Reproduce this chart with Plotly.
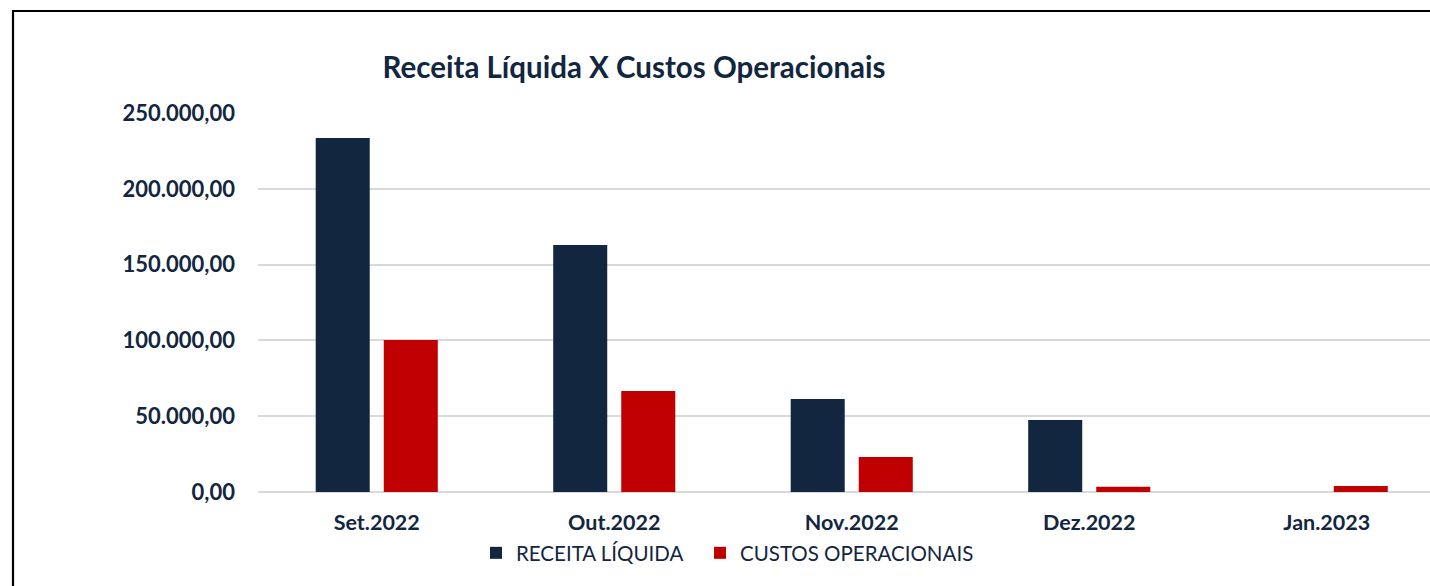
import plotly.graph_objects as go

categories = ["Set.2022", "Out.2022", "Nov.2022", "Dez.2022", "Jan.2023"]
receita_liquida = [233500, 162900, 61300, 47500, 0]
custos_operacionais = [100300, 66600, 23100, 3500, 3950]
y_ticks = [0, 50000, 100000, 150000, 200000, 250000]
y_tick_labels = ["0,00", "50.000,00", "100.000,00", "150.000,00", "200.000,00", "250.000,00"]

NAVY = "#12263F"
RED = "#C00000"
FONT = "Lato"

fig = go.Figure()
fig.add_trace(go.Bar(name="RECEITA LÍQUIDA", x=categories, y=receita_liquida,
                     marker=dict(color=NAVY, line=dict(width=0)), legend="legend"))
fig.add_trace(go.Bar(name="CUSTOS OPERACIONAIS", x=categories, y=custos_operacionais,
                     marker=dict(color=RED, line=dict(width=0)), legend="legend2"))

W, H = 1430, 586
L, T, B = 258, 113, 586 - 492
pw = W - L
ph = H - T - B
step = 237.5

def px_x(x):
    return (x - L) / pw

def px_y(y):
    return (H - B - y) / ph

legend_common = dict(orientation="h", xanchor="left", yanchor="middle", y=px_y(553),
                     font=dict(size=20.5, color=NAVY, family=FONT),
                     bgcolor="rgba(0,0,0,0)")

fig.update_layout(
    width=W, height=H,
    margin=dict(l=L, r=0, t=T, b=B, pad=0),
    paper_bgcolor="white", plot_bgcolor="white",
    barmode="group", bargap=0.427, bargroupgap=0.206,
    font=dict(family=FONT, color=NAVY),
    title=dict(text="<b>Receita Líquida X Custos Operacionais</b>",
               x=634 / W, xanchor="center", y=1 - 68 / H, yanchor="middle",
               font=dict(size=29.5, color=NAVY, family=FONT)),
    xaxis=dict(range=[-0.5, -0.5 + pw / step], showgrid=False, showline=False,
               ticks="", ticklabelstandoff=15,
               tickfont=dict(size=21.5, color=NAVY, family=FONT),
               tickprefix="<b>", ticksuffix="</b>"),
    yaxis=dict(range=[0, 250000], tickvals=y_ticks, ticktext=["<b>%s</b>" % t for t in y_tick_labels],
               showgrid=True, gridcolor="#D9D9D9", gridwidth=1.5,
               zeroline=True, zerolinecolor="#D9D9D9", zerolinewidth=1.5,
               showline=False, ticks="", ticklabelstandoff=22,
               tickfont=dict(size=22, color=NAVY, family=FONT)),
    legend=dict(x=px_x(476), **legend_common),
    legend2=dict(x=px_x(700), **legend_common),
    showlegend=True,
    shapes=[
        dict(type="line", xref="paper", yref="paper", x0=px_x(12), x1=1.0, y0=px_y(11), y1=px_y(11),
             line=dict(color="black", width=2.2)),
        dict(type="line", xref="paper", yref="paper", x0=px_x(13), x1=px_x(13), y0=px_y(11), y1=px_y(586),
             line=dict(color="black", width=2.2)),
    ],
)

fig.write_html("out.html", config={"displayModeBar": False},
               post_script="document.body.style.margin='0';")
